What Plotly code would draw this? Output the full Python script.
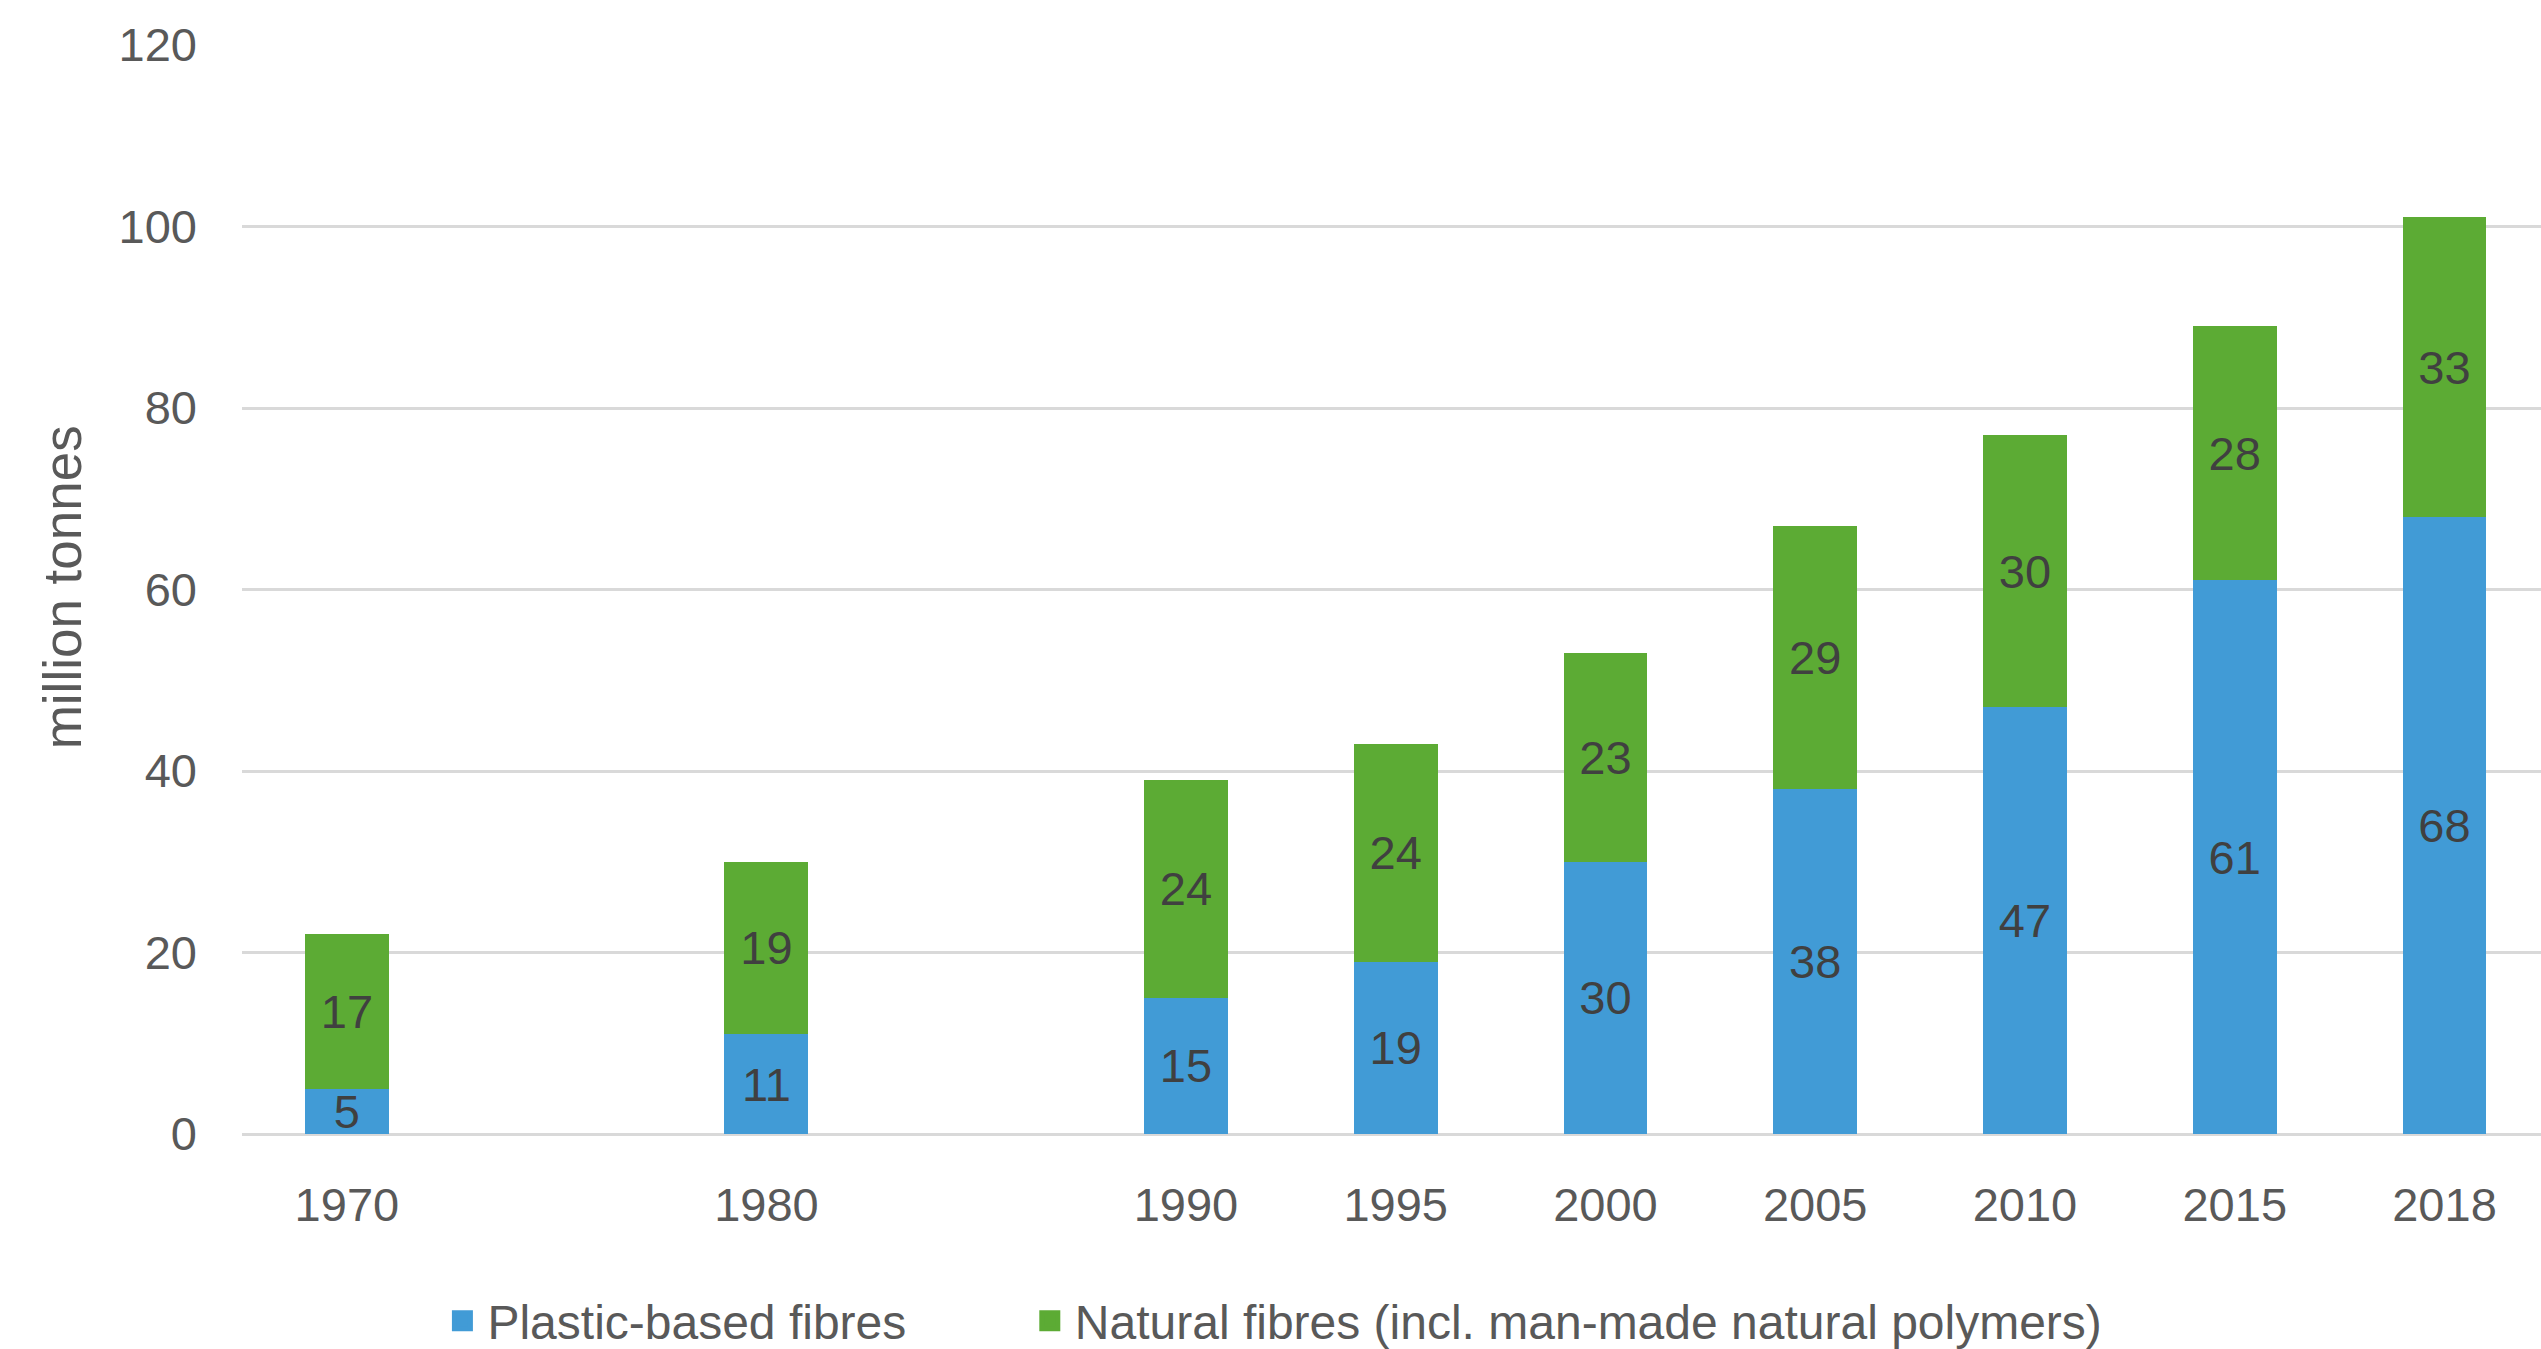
import plotly.graph_objects as go

# Fibre production by year, million tonnes
years = ["1970", "1980", "1990", "1995", "2000", "2005", "2010", "2015", "2018"]
plastic = [5, 11, 15, 19, 30, 38, 47, 61, 68]
natural = [17, 19, 24, 24, 23, 29, 30, 28, 33]

# Axis slots: 1975 and 1985 have no data but keep their place on the axis
axis_slots = ["1970", "1975", "1980", "1985", "1990", "1995", "2000", "2005", "2010", "2015", "2018"]

y_ticks = [0, 20, 40, 60, 80, 100, 120]

series_names = ["Plastic-based fibres", "Natural fibres (incl. man-made natural polymers)"]
colors = ["#419BD6", "#5CAB34"]

FONT = "Liberation Sans"
TICK_COLOR = "#595959"
LABEL_COLOR = "#404040"
FS = 47

fig = go.Figure()

for name, vals, col in zip(series_names, [plastic, natural], colors):
    fig.add_trace(go.Bar(
        x=years, y=vals, name=name,
        marker=dict(color=col, line=dict(width=0)),
        text=[str(v) for v in vals],
        textposition="inside",
        insidetextanchor="middle",
        textangle=0,
        textfont=dict(family=FONT, size=FS, color=LABEL_COLOR),
        showlegend=False,
        hoverinfo="skip",
    ))

# Legend entries with larger square swatches, one legend box per series
legend_ids = ["legend", "legend2"]
for name, col, lg in zip(series_names, colors, legend_ids):
    fig.add_trace(go.Scatter(
        x=[None], y=[None], mode="markers", name=name, legend=lg,
        marker=dict(symbol="square", size=16, color=col, line=dict(width=5, color=col)),
    ))

legend_style = dict(
    orientation="h",
    yref="container", y=0.0208, yanchor="middle",
    xanchor="left",
    font=dict(family=FONT, size=48, color=TICK_COLOR),
    itemwidth=40,
    bgcolor="rgba(0,0,0,0)",
)

fig.update_layout(
    width=2541, height=1349,
    margin=dict(l=242, r=0, t=45, b=215, autoexpand=False),
    paper_bgcolor="white", plot_bgcolor="white",
    barmode="stack", bargap=0.6,
    font=dict(family=FONT, size=FS, color=TICK_COLOR),
    uniformtext=dict(minsize=FS, mode="show"),
    showlegend=True,
    legend=dict(legend_style, x=0.085),
    legend2=dict(legend_style, x=0.3405),
    xaxis=dict(
        type="category",
        categoryorder="array", categoryarray=axis_slots,
        range=[-0.5, 10.46],
        tickvals=years, ticktext=years,
        showgrid=False, showline=False, zeroline=False,
        ticks="", ticklabelstandoff=39,
        tickfont=dict(family=FONT, size=FS, color=TICK_COLOR),
        fixedrange=True,
    ),
    yaxis=dict(
        range=[0, 120], tickvals=y_ticks,
        showgrid=True, gridcolor="#D9D9D9", gridwidth=3,
        zeroline=True, zerolinecolor="#D9D9D9", zerolinewidth=3,
        showline=False, ticks="", ticklabelstandoff=44,
        tickfont=dict(family=FONT, size=FS, color=TICK_COLOR),
        fixedrange=True,
    ),
    annotations=[dict(
        text="million tonnes", textangle=-90,
        xref="paper", yref="paper", x=0, y=0.502,
        xanchor="center", yanchor="middle", xshift=-180,
        showarrow=False,
        font=dict(family=FONT, size=53, color=TICK_COLOR),
    )],
)

fig.write_html("out.html")
